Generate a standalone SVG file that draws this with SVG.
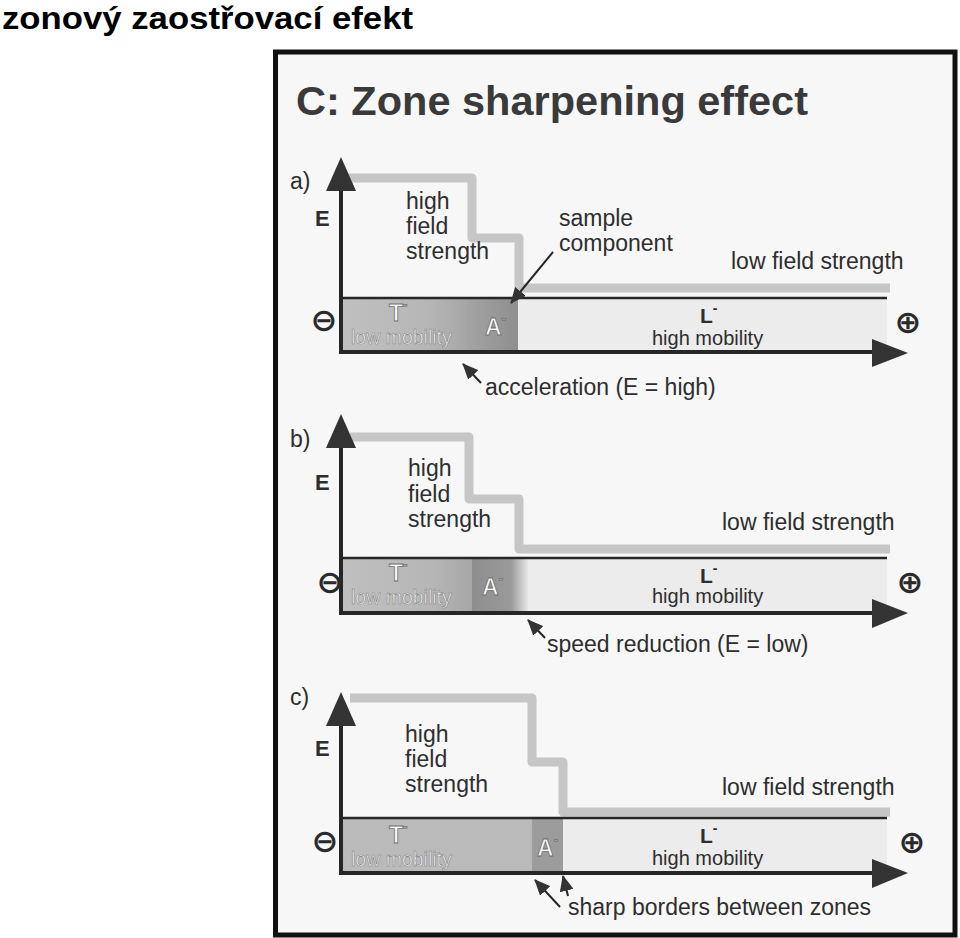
<svg xmlns="http://www.w3.org/2000/svg" width="960" height="938" viewBox="0 0 960 938">
<defs>
<style>
.t{font-family:"Liberation Sans",Arial,sans-serif;fill:#2e2e2e}
.lbl{font-size:23px}
.pan{font-size:23px}
.E{font-size:22px;font-weight:bold}
.zw{font-family:"Liberation Sans",Arial,sans-serif;fill:#f8f8f8;stroke:#6e6e6e;stroke-width:0.8;font-weight:bold}
.lm{font-family:"Liberation Sans",Arial,sans-serif;fill:#f6f6f6;stroke:#808080;stroke-width:0.6;font-size:19.5px}
.sym{font-family:"DejaVu Sans",sans-serif;font-weight:bold;font-size:32px;fill:#2a2a2a;text-anchor:middle}
.step{fill:none;stroke:#c6c6c6;stroke-width:9;stroke-linejoin:round}
.ax{stroke:#262626;stroke-width:4;fill:none}
.top{stroke:#262626;stroke-width:2.5}
.ah{fill:#333}
.ann{stroke:#262626;stroke-width:2;fill:none;marker-end:url(#arr)}
</style>
<marker id="arr" viewBox="0 0 16 14" refX="15" refY="7" markerWidth="16" markerHeight="14" markerUnits="userSpaceOnUse" orient="auto">
<path d="M0,0 L16,7 L0,14 z" fill="#333"/>
</marker>
<linearGradient id="gTa" x1="0" x2="1" y1="0" y2="0">
<stop offset="0" stop-color="#c0c0c0"/><stop offset="0.7" stop-color="#b6b6b6"/><stop offset="1" stop-color="#a6a6a6"/>
</linearGradient>
<linearGradient id="gAa" x1="0" x2="1" y1="0" y2="0">
<stop offset="0" stop-color="#a4a4a4"/><stop offset="1" stop-color="#8e8e8e"/>
</linearGradient>
<linearGradient id="gAb" x1="0" x2="1" y1="0" y2="0">
<stop offset="0" stop-color="#8e8e8e"/><stop offset="0.7" stop-color="#9a9a9a"/><stop offset="1" stop-color="#e6e6e6"/>
</linearGradient>
</defs>
<rect width="960" height="938" fill="#ffffff"/>
<text x="2" y="29" font-family="Liberation Sans,Arial,sans-serif" font-weight="bold" font-size="32" fill="#000" textLength="411" lengthAdjust="spacingAndGlyphs">zonový zaostřovací efekt</text>
<g id="frame">
<rect x="275.5" y="52" width="679.5" height="883" fill="#f7f7f7" stroke="#111" stroke-width="5"/>
<text class="t" x="296" y="115" font-size="41" font-weight="bold" textLength="512" lengthAdjust="spacingAndGlyphs" style="fill:#3a3a3a">C: Zone sharpening effect</text>
</g>

<!-- Panel a -->
<g id="panel-a">
<text class="t pan" x="290" y="189">a)</text>
<rect x="341" y="298" width="126" height="54" fill="url(#gTa)"/>
<rect x="467" y="298" width="51" height="54" fill="url(#gAa)"/>
<rect x="518" y="298" width="369" height="54" fill="#ececec"/>
<path class="step" d="M345,178 H472 V238 H519 V288 H890"/>
<line class="top" x1="341" y1="298" x2="887" y2="298"/>
<line class="ax" x1="341" y1="354" x2="341" y2="186"/>
<polygon class="ah" points="341,157 326,191 356,191"/>
<line class="ax" x1="339" y1="352" x2="878" y2="352"/>
<polygon class="ah" points="872,339 908,353 872,367"/>
<text class="t E" x="315" y="226">E</text>
<text class="sym" x="324" y="331">⊖</text>
<text class="sym" x="908" y="333">⊕</text>
<text class="zw" x="389" y="321" font-size="23">T<tspan font-size="13" dy="-12">-</tspan></text>
<text class="lm" x="351" y="344">low mobility</text>
<text class="zw" x="485" y="335" font-size="23">A<tspan font-size="13" dy="-12">-</tspan></text>
<text class="t" x="700" y="323" font-size="21" font-weight="bold">L<tspan font-size="14" dy="-10">-</tspan></text>
<text class="t" x="652" y="345" font-size="20">high mobility</text>
<text class="t lbl" x="406" y="209">high</text>
<text class="t lbl" x="406" y="234">field</text>
<text class="t lbl" x="406" y="259">strength</text>
<text class="t lbl" x="559" y="226">sample</text>
<text class="t lbl" x="559" y="251">component</text>
<text class="t lbl" x="731" y="269">low field strength</text>
<text class="t lbl" x="485" y="395">acceleration (E = high)</text>
</g>

<!-- Panel b -->
<g id="panel-b">
<text class="t pan" x="290" y="447">b)</text>
<rect x="341" y="558" width="131" height="55" fill="url(#gTa)"/>
<rect x="528" y="558" width="359" height="55" fill="#ececec"/>
<rect x="472" y="558" width="56" height="55" fill="url(#gAb)"/>
<path class="step" d="M350,437 H469 V499 H519 V549 H890"/>
<line class="top" x1="341" y1="558" x2="887" y2="558"/>
<line class="ax" x1="341" y1="615" x2="341" y2="444"/>
<polygon class="ah" points="341,414 326,448 356,448"/>
<line class="ax" x1="339" y1="613" x2="878" y2="613"/>
<polygon class="ah" points="872,599 908,613 872,628"/>
<text class="t E" x="315" y="490">E</text>
<text class="sym" x="330" y="593">⊖</text>
<text class="sym" x="910" y="593">⊕</text>
<text class="zw" x="389" y="581" font-size="23">T<tspan font-size="13" dy="-12">-</tspan></text>
<text class="lm" x="351" y="604">low mobility</text>
<text class="zw" x="482" y="595" font-size="23">A<tspan font-size="13" dy="-12">-</tspan></text>
<text class="t" x="700" y="583" font-size="21" font-weight="bold">L<tspan font-size="14" dy="-10">-</tspan></text>
<text class="t" x="652" y="603" font-size="20">high mobility</text>
<text class="t lbl" x="408" y="476">high</text>
<text class="t lbl" x="408" y="502">field</text>
<text class="t lbl" x="408" y="527">strength</text>
<text class="t lbl" x="722" y="530">low field strength</text>
<text class="t lbl" x="547" y="652">speed reduction (E = low)</text>
</g>

<!-- Panel c -->
<g id="panel-c">
<text class="t pan" x="290" y="705">c)</text>
<rect x="341" y="818" width="191" height="55" fill="#bababa"/>
<rect x="532" y="818" width="31" height="55" fill="#9c9c9c"/>
<rect x="563" y="818" width="324" height="55" fill="#ececec"/>
<path class="step" d="M350,698 H532 V762 H563 V812 H890"/>
<line class="top" x1="341" y1="818" x2="887" y2="818"/>
<line class="ax" x1="341" y1="875" x2="341" y2="722"/>
<polygon class="ah" points="341,692 326,726 356,726"/>
<line class="ax" x1="339" y1="873" x2="878" y2="873"/>
<polygon class="ah" points="872,859 908,873 872,888"/>
<text class="t E" x="315" y="756">E</text>
<text class="sym" x="325" y="852">⊖</text>
<text class="sym" x="912" y="853">⊕</text>
<text class="zw" x="389" y="843" font-size="23">T<tspan font-size="13" dy="-12">-</tspan></text>
<text class="lm" x="351" y="866">low mobility</text>
<text class="zw" x="537" y="856" font-size="23">A<tspan font-size="13" dy="-12">-</tspan></text>
<text class="t" x="700" y="843" font-size="21" font-weight="bold">L<tspan font-size="14" dy="-10">-</tspan></text>
<text class="t" x="652" y="865" font-size="20">high mobility</text>
<text class="t lbl" x="405" y="742">high</text>
<text class="t lbl" x="405" y="767">field</text>
<text class="t lbl" x="405" y="792">strength</text>
<text class="t lbl" x="722" y="795">low field strength</text>
<text class="t lbl" x="568" y="915">sharp borders between zones</text>
</g>

<g id="connectors">
<line class="ann" x1="553" y1="252" x2="511" y2="303"/>
<line class="ann" x1="481" y1="383" x2="463" y2="364"/>
<line class="ann" x1="545" y1="638" x2="528" y2="620"/>
<line class="ann" x1="560" y1="907" x2="535" y2="880"/>
<line class="ann" x1="568" y1="896" x2="563" y2="876"/>
</g>
</svg>
